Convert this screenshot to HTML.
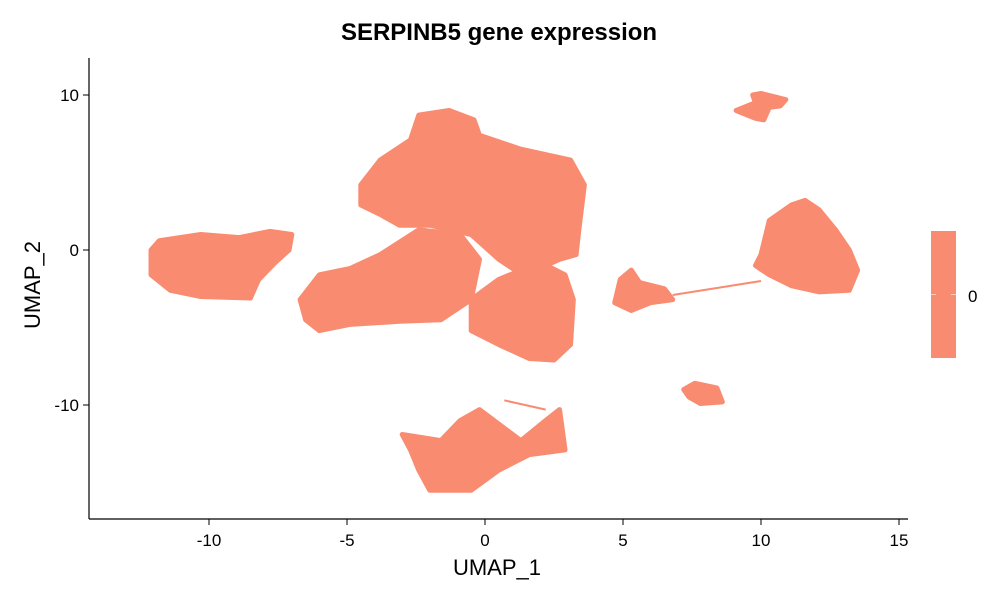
<!DOCTYPE html>
<html><head><meta charset="utf-8"><style>
body{margin:0;background:#fff}
svg text{font-family:"Liberation Sans",sans-serif}
</style></head><body>
<svg id="chart" width="1000" height="600">
<text x="499" y="40" text-anchor="middle" font-size="24" font-weight="bold">SERPINB5 gene expression</text>
<g id="clusters"></g>
<line x1="89" y1="58" x2="89" y2="519" stroke="#000" stroke-width="1.2"/>
<line x1="89" y1="519" x2="908" y2="519" stroke="#000" stroke-width="1.2"/>
<g id="ticks"></g>
<text x="497" y="575" text-anchor="middle" font-size="22">UMAP_1</text>
<text x="0" y="0" transform="translate(40,285) rotate(-90)" text-anchor="middle" font-size="22">UMAP_2</text>
<rect x="931" y="231" width="25" height="127" fill="#F98B71"/>
<line x1="931" y1="294.5" x2="936" y2="294.5" stroke="#fcc" stroke-width="1"/>
<line x1="951" y1="294.5" x2="956" y2="294.5" stroke="#fcc" stroke-width="1"/>
<text x="968" y="302" font-size="17">0</text>
</svg>
<script>
const xTicks=[-10,-5,0,5,10,15];
const yTicks=[10,0,-10];
const clusterPolys=[
[[-12.1,0],[-11.8,0.6],[-10.3,1.0],[-8.9,0.8],[-7.8,1.2],[-7.0,1.0],[-7.1,0],[-7.6,-0.8],[-8.2,-1.9],[-8.5,-3.1],[-10.3,-3.0],[-11.4,-2.6],[-12.1,-1.6]],
[[-4.5,4.2],[-3.8,5.8],[-2.7,7.1],[-2.4,8.7],[-1.3,9.0],[-0.4,8.4],[-0.2,7.4],[1.3,6.5],[3.1,5.8],[3.6,4.2],[3.4,1.3],[3.3,-0.3],[2.7,-0.6],[2.2,-1.0],[1.6,-1.9],[0.5,-0.6],[-0.5,1.0],[-2.0,1.6],[-3.1,1.6],[-3.8,2.3],[-4.5,2.9]],
[[-6.7,-3.2],[-6.0,-1.6],[-4.9,-1.2],[-3.8,-0.3],[-2.4,1.3],[-0.9,1.0],[-0.2,-0.6],[-0.5,-3.2],[-1.6,-4.5],[-3.1,-4.6],[-4.9,-4.8],[-6.0,-5.2],[-6.5,-4.5]],
[[-0.5,-3.2],[0.5,-1.9],[2.0,-0.8],[2.9,-1.6],[3.2,-3.2],[3.1,-6.1],[2.5,-7.1],[1.6,-7.0],[0.5,-6.1],[-0.5,-5.2]],
[[-3.0,-11.9],[-1.6,-12.3],[-0.9,-11.0],[-0.2,-10.3],[1.3,-12.3],[2.2,-11.0],[2.7,-10.3],[2.9,-12.9],[1.6,-13.2],[0.5,-14.2],[-0.5,-15.5],[-2.0,-15.5],[-2.4,-14.2],[-2.7,-12.9]],
[[10.0,-0.3],[10.3,1.9],[11.1,2.9],[11.6,3.2],[12.1,2.6],[12.7,1.3],[13.2,0],[13.5,-1.3],[13.2,-2.6],[12.1,-2.7],[11.1,-2.3],[10.3,-1.6],[9.8,-1.0]],
[[9.1,9.0],[9.8,9.5],[9.7,10.0],[10.0,10.1],[10.9,9.7],[10.7,9.3],[10.3,9.2],[10.1,8.4],[9.8,8.5]],
[[7.2,-9.0],[7.6,-8.6],[8.4,-8.9],[8.6,-9.8],[7.8,-9.9],[7.4,-9.5]],
[[4.9,-1.9],[5.3,-1.3],[5.6,-2.1],[6.5,-2.5],[6.8,-3.2],[6.0,-3.4],[5.3,-3.9],[4.7,-3.4]]
];
const streaks=[[[6.8,-2.9],[10.0,-2.0]],[[0.7,-9.7],[2.2,-10.3]]];
const sx=v=>485+27.6*v, sy=v=>250-15.5*v;
const NS='http://www.w3.org/2000/svg';
const g=document.getElementById('clusters');
clusterPolys.forEach((p,i)=>{
 const el=document.createElementNS(NS,'polygon');
 el.setAttribute('points',p.map(q=>sx(q[0])+','+sy(q[1])).join(' '));
 el.setAttribute('fill','#F98B71');
 el.setAttribute('stroke','#F98B71');el.setAttribute('stroke-width','5');el.setAttribute('stroke-linejoin','round');
 
 
 g.appendChild(el);
});
streaks.forEach((s,i)=>{
 const el=document.createElementNS(NS,'line');
 el.setAttribute('x1',sx(s[0][0]));el.setAttribute('y1',sy(s[0][1]));
 el.setAttribute('x2',sx(s[1][0]));el.setAttribute('y2',sy(s[1][1]));
 el.setAttribute('stroke','#F98B71');el.setAttribute('stroke-width','2');
 
 
 g.appendChild(el);
});
const t=document.getElementById('ticks');
xTicks.forEach(v=>{
 const l=document.createElementNS(NS,'line');
 l.setAttribute('x1',sx(v));l.setAttribute('x2',sx(v));l.setAttribute('y1',519);l.setAttribute('y2',525);l.setAttribute('stroke','#000');
 
 
 t.appendChild(l);
 const tx=document.createElementNS(NS,'text');
 tx.setAttribute('x',sx(v));tx.setAttribute('y',546);tx.setAttribute('text-anchor','middle');tx.setAttribute('font-size','17');
 tx.textContent=v;
 
 
 t.appendChild(tx);
});
yTicks.forEach(v=>{
 const l=document.createElementNS(NS,'line');
 l.setAttribute('x1',83);l.setAttribute('x2',89);l.setAttribute('y1',sy(v));l.setAttribute('y2',sy(v));l.setAttribute('stroke','#000');
 
 
 t.appendChild(l);
 const tx=document.createElementNS(NS,'text');
 tx.setAttribute('x',79);tx.setAttribute('y',sy(v)+6);tx.setAttribute('text-anchor','end');tx.setAttribute('font-size','17');
 tx.textContent=v;
 
 
 t.appendChild(tx);
});
</script>
</body></html>
